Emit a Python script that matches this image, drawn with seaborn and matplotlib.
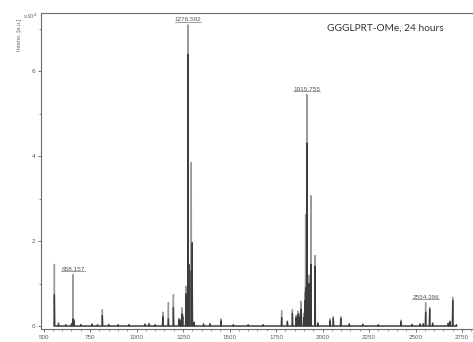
import numpy as np
import pandas as pd
import matplotlib
matplotlib.use("Agg")
import matplotlib.pyplot as plt
import seaborn as sns
from matplotlib.ticker import MultipleLocator
from matplotlib.lines import Line2D

# ---- data (intensities in units of 1e4) ----
peak_mz = [558, 580, 620, 650, 658.2, 664, 700, 760, 790, 816, 850, 900, 960,
           1045, 1068, 1100, 1141, 1171, 1198, 1228, 1237, 1243, 1248, 1265,
           1276.6, 1281, 1294, 1299, 1310, 1360, 1395, 1454, 1520, 1600, 1680,
           1780, 1811, 1838, 1858, 1867, 1874, 1884, 1898, 1906, 1909, 1915.8,
           1927, 1938, 1960, 1975, 2040, 2058, 2098, 2144, 2216, 2300, 2422,
           2480, 2524, 2542, 2554.4, 2576, 2592, 2676, 2686, 2700, 2720]
peak_top = [1.45, 0.08, 0.03, 0.06, 1.21, 0.15, 0.04, 0.05, 0.03, 0.39, 0.04, 0.03, 0.04,
            0.05, 0.06, 0.03, 0.33, 0.55, 0.74, 0.18, 0.15, 0.43, 0.27, 0.94,
            7.09, 1.45, 3.85, 1.96, 0.10, 0.05, 0.06, 0.17, 0.03, 0.03, 0.03,
            0.36, 0.12, 0.39, 0.25, 0.35, 0.30, 0.58, 0.30, 0.80, 2.62, 5.45,
            1.20, 3.07, 1.66, 0.08, 0.17, 0.22, 0.22, 0.05, 0.04, 0.03, 0.14,
            0.04, 0.05, 0.06, 0.55, 0.44, 0.08, 0.07, 0.12, 0.68, 0.03]
peak_core = [0.74, 0.05, 0.03, 0.05, 0.17, 0.12, 0.03, 0.04, 0.03, 0.25, 0.03, 0.03, 0.03,
             0.04, 0.05, 0.03, 0.22, 0.17, 0.43, 0.15, 0.12, 0.29, 0.22, 0.76,
             6.40, 1.45, 1.30, 1.96, 0.08, 0.05, 0.05, 0.12, 0.03, 0.03, 0.03,
             0.20, 0.10, 0.30, 0.20, 0.28, 0.22, 0.40, 0.20, 0.60, 0.90, 4.31,
             1.00, 1.45, 1.41, 0.06, 0.12, 0.18, 0.18, 0.05, 0.04, 0.03, 0.10,
             0.04, 0.05, 0.05, 0.33, 0.40, 0.06, 0.06, 0.10, 0.60, 0.03]
label_mz = [658.157, 1276.592, 1915.755, 2554.396]
label_top = [1.21, 7.09, 5.45, 0.55]
x_ticks = [500, 750, 1000, 1250, 1500, 1750, 2000, 2250, 2500, 2750]
y_ticks = [0, 2, 4, 6]
title = "GGGLPRT-OMe, 24 hours"


def profile(mz, h, w=1.8):
    xs, ys = [], []
    for m, v in sorted(zip(mz, h)):
        xs += [m - w, m, m + w]
        ys += [0, v, 0]
    return pd.DataFrame({"mz": xs, "intens": ys})


sns.set_theme(style="ticks")
plt.rcParams["font.family"] = ["Liberation Sans", "DejaVu Sans"]

fig = plt.figure(figsize=(4.73, 3.42), dpi=100)
ax = fig.add_axes([41 / 473, 13 / 342, 437 / 473, 316 / 342])

sns.lineplot(data=profile(peak_mz, peak_top), x="mz", y="intens", sort=False,
             estimator=None, color="#9a9a9a", lw=1.0, ax=ax)
sns.lineplot(data=profile(peak_mz, peak_core), x="mz", y="intens", sort=False,
             estimator=None, color="#3c3c3c", lw=0.9, ax=ax)

labels = []
for m, h in zip(label_mz, label_top):
    t = ax.annotate(f"{m:.3f}", xy=(m, h), xytext=(0, 2.0),
                    textcoords="offset points", ha="center", va="bottom",
                    fontsize=4.6, color="#555555")
    labels.append(t)

ax.set_xlim(486, 2836)
ax.set_ylim(-0.07, 7.37)
ax.set_xticks(x_ticks)
ax.set_yticks(y_ticks)
ax.set_xticklabels([str(t) for t in x_ticks])
ax.set_yticklabels([str(t) for t in y_ticks])
ax.xaxis.set_minor_locator(MultipleLocator(50))
ax.yaxis.set_minor_locator(MultipleLocator(1))
ax.tick_params(axis="both", which="major", labelsize=4.5, length=2.5, width=0.6,
               colors="#5a5a5a", pad=1.5)
ax.tick_params(axis="both", which="minor", length=1.5, width=0.5, colors="#666666")
ax.set_xlabel("")
ax.set_ylabel("")
for s in ax.spines.values():
    s.set_color("#6a6a6a")
    s.set_linewidth(0.8)

fig.text(23 / 473, 1 - 16 / 342, r"x10$^4$", fontsize=4.5, color="#666666",
         ha="left", va="center")
fig.text(19 / 473, 1 - 35 / 342, "Intens. [a.u.]", fontsize=4.2, color="#666666",
         rotation=90, ha="center", va="center")
fig.text(385 / 473, 1 - 28 / 342, title, fontsize=7.3, color="#333333",
         ha="center", va="center", family=["Lato", "DejaVu Sans"])

# underline the peak labels
fig.canvas.draw()
r = fig.canvas.get_renderer()
for t in labels:
    bb = t.get_window_extent(renderer=r)
    fig.add_artist(Line2D([bb.x0, bb.x1], [bb.y0 + 0.5, bb.y0 + 0.5],
                          transform=None, color="#777777", lw=0.5))

fig.savefig("out.png", dpi=100)
